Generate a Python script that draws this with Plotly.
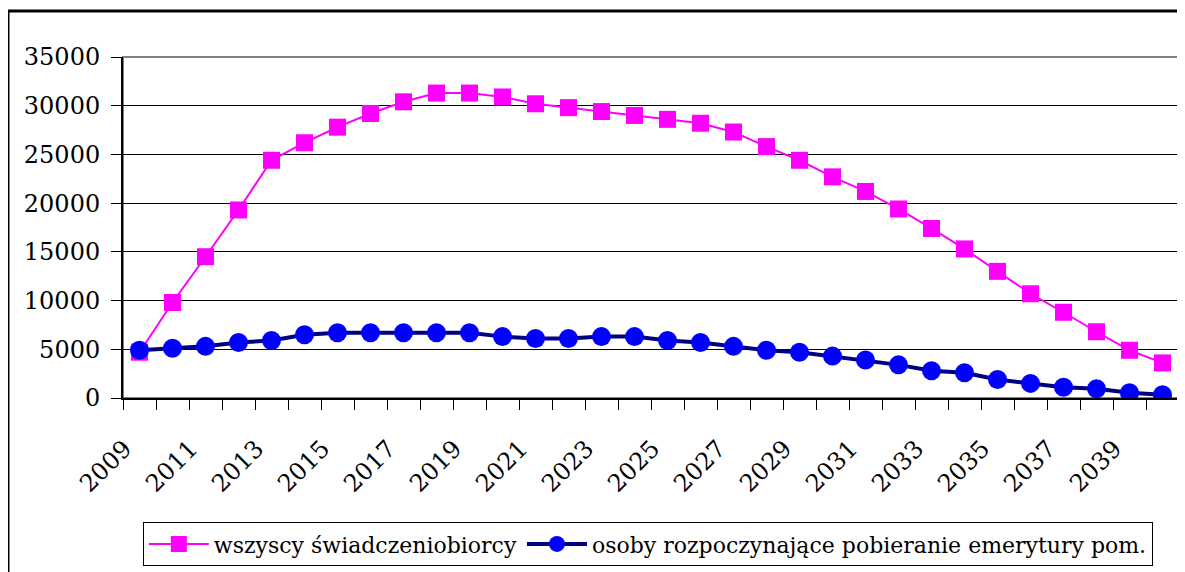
import plotly.graph_objects as go

years = list(range(2009, 2041))
tick_years = list(range(2009, 2041, 2))
tick_labels = [str(y) for y in tick_years]

wszyscy = [4700, 9800, 14500, 19300, 24400, 26200, 27800, 29200, 30400, 31300,
           31300, 30900, 30200, 29800, 29400, 29000, 28600, 28200, 27300, 25800,
           24400, 22700, 21200, 19400, 17400, 15300, 13000, 10700, 8800, 6800,
           4900, 3600]
rozpoczynajace = [4900, 5100, 5300, 5700, 5900, 6500, 6700, 6700, 6700, 6700,
                  6700, 6300, 6100, 6100, 6300, 6300, 5900, 5700, 5300, 4900,
                  4700, 4300, 3900, 3400, 2800, 2600, 1900, 1500, 1100, 950,
                  550, 330]

serif = "DejaVu Serif"

fig = go.Figure()

fig.add_trace(go.Scatter(
    x=years,
    y=wszyscy,
    mode='lines+markers',
    name='wszyscy świadczeniobiorcy',
    line=dict(color='#FF00FF', width=2),
    marker=dict(symbol='square', size=17, color='#FF00FF')
))

fig.add_trace(go.Scatter(
    x=years,
    y=rozpoczynajace,
    mode='lines+markers',
    name='osoby rozpoczynające pobieranie emerytury pom.',
    line=dict(color='#000080', width=4),
    marker=dict(symbol='circle', size=19, color='#0000FF')
))

# plot area border (grey) and outer chart frame (black)
fig.add_shape(type='rect', xref='paper', yref='paper', x0=0, y0=0, x1=1, y1=1,
              line=dict(color='#808080', width=2), layer='below')
fig.add_shape(type='rect', xref='paper', yref='paper',
              x0=-0.1089, y0=-0.56, x1=1.03, y1=1.1349,
              line=dict(color='black', width=3))

fig.update_layout(
    template='none',
    width=1177,
    height=564,
    margin=dict(l=115, r=6, t=49, b=174, autoexpand=False),
    paper_bgcolor='white',
    plot_bgcolor='white',
    font=dict(family=serif, size=24, color='black'),
    showlegend=True,
    legend=dict(
        orientation='h',
        x=0.497,
        xanchor='center',
        y=-0.364,
        yanchor='top',
        bordercolor='black',
        borderwidth=1,
        bgcolor='white',
        font=dict(family=serif, size=22, color='black'),
        itemwidth=60
    ),
    xaxis=dict(
        range=[2008.5, 2040.5],
        tickvals=tick_years,
        ticktext=tick_labels,
        tickangle=-45,
        tickfont=dict(family=serif, size=24),
        ticks='',
        showgrid=False,
        showline=True,
        linecolor='black',
        linewidth=2,
        zeroline=False,
        automargin=False,
        ticklabelstandoff=25,
        ticklabelshift=-15,
        minor=dict(tick0=2008.5, dtick=1, ticks='outside', ticklen=10,
                   tickcolor='black', tickwidth=1, showgrid=False)
    ),
    yaxis=dict(
        range=[0, 35000],
        dtick=5000,
        tickfont=dict(family=serif, size=24),
        ticks='outside',
        ticklen=10,
        tickcolor='black',
        showline=True,
        linecolor='black',
        linewidth=2,
        showgrid=True,
        gridcolor='black',
        gridwidth=1,
        zeroline=False,
        automargin=False,
        ticklabelstandoff=6,
        tickformat='d'
    )
)

fig.write_html("out.html")
